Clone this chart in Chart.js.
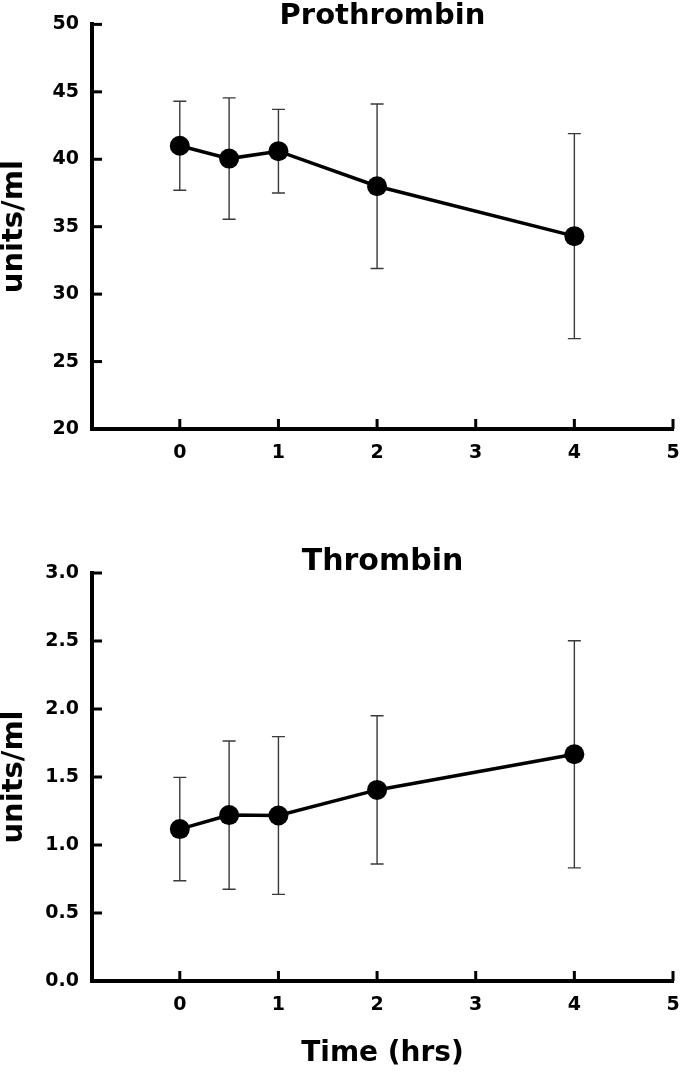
<!DOCTYPE html>
<html>
<head>
<meta charset="utf-8">
<script src="https://cdn.jsdelivr.net/npm/chart.js@4.4.1/dist/chart.umd.min.js"></script>
<style>
  html, body { margin: 0; padding: 0; background: #fff; }
  #wrap { position: relative; width: 680px; height: 1073px; overflow: hidden; }
  #c1 { position: absolute; left: 0; top: 0; }
  #c2 { position: absolute; left: 0; top: 520px; }
</style>
</head>
<body>
<div id="wrap">
  <canvas id="c1" width="680" height="470"></canvas>
  <canvas id="c2" width="680" height="553"></canvas>
</div>
<script>
// ---- Data ----
const timeHrs = [0, 0.5, 1, 2, 4];
const prothrombinMean = [41.0, 40.05, 40.6, 38.0, 34.3];
const prothrombinSD = [3.3, 4.5, 3.1, 6.1, 7.6];
const thrombinMean = [1.117, 1.22, 1.217, 1.405, 1.667];
const thrombinSD = [0.38, 0.545, 0.58, 0.545, 0.835];
const xTickValues = [0, 1, 2, 3, 4, 5];
const prothrombinYTicks = [20, 25, 30, 35, 40, 45, 50];
const thrombinYTicks = [0, 0.5, 1.0, 1.5, 2.0, 2.5, 3.0];

Chart.defaults.font.family = "'DejaVu Sans', 'Liberation Sans', sans-serif";
Chart.defaults.font.weight = 'bold';
Chart.defaults.color = '#000';

const errorBars = {
  id: 'errorBars',
  beforeDatasetsDraw(chart, args, opts) {
    const { ctx, scales: { x, y } } = chart;
    const ds = chart.data.datasets[0];
    const cap = 6.5;
    ctx.save();
    ctx.strokeStyle = '#3a3a3a';
    ctx.lineWidth = 1.4;
    ds.data.forEach((p, i) => {
      const sd = opts.sd[i];
      const px = x.getPixelForValue(p.x);
      const yt = y.getPixelForValue(p.y + sd);
      const yb = y.getPixelForValue(p.y - sd);
      ctx.beginPath();
      ctx.moveTo(px, yt); ctx.lineTo(px, yb);
      ctx.moveTo(px - cap, yt); ctx.lineTo(px + cap, yt);
      ctx.moveTo(px - cap, yb); ctx.lineTo(px + cap, yb);
      ctx.stroke();
    });
    ctx.restore();
  }
};

const innerTicks = {
  id: 'innerTicks',
  beforeDatasetsDraw(chart) {
    const { ctx, chartArea, scales: { x, y } } = chart;
    const len = 10;
    ctx.save();
    ctx.strokeStyle = '#000';
    ctx.lineWidth = 3;
    x.ticks.forEach(t => {
      const px = x.getPixelForValue(t.value);
      ctx.beginPath();
      ctx.moveTo(px, chartArea.bottom);
      ctx.lineTo(px, chartArea.bottom - len);
      ctx.stroke();
    });
    y.ticks.forEach(t => {
      const py = y.getPixelForValue(t.value);
      ctx.beginPath();
      ctx.moveTo(chartArea.left, py);
      ctx.lineTo(chartArea.left + len, py);
      ctx.stroke();
    });
    ctx.restore();
  }
};

function makeChart(canvasId, cfg) {
  return new Chart(document.getElementById(canvasId), {
    type: 'line',
    data: {
      datasets: [{
        data: timeHrs.map((t, i) => ({ x: t, y: cfg.mean[i] })),
        borderColor: '#000',
        borderWidth: 3.5,
        pointRadius: 10,
        pointBackgroundColor: '#000',
        pointBorderColor: '#000',
        pointBorderWidth: 0,
        tension: 0,
        clip: false
      }]
    },
    plugins: [errorBars, innerTicks],
    options: {
      responsive: false,
      animation: false,
      layout: { autoPadding: false, padding: { left: 0, right: 7, top: 0, bottom: 0 } },
      plugins: {
        legend: { display: false },
        tooltip: { enabled: false },
        errorBars: { sd: cfg.sd },
        title: {
          display: true,
          text: cfg.title,
          fullSize: false,
          color: '#000',
          font: { size: cfg.titleSize, weight: 'bold', lineHeight: cfg.titleLH },
          padding: cfg.titlePad
        }
      },
      scales: {
        x: {
          type: 'linear',
          min: -0.89,
          max: 5,
          grid: { display: false, drawTicks: false },
          border: { display: true, width: 4, color: '#000' },
          ticks: { font: { size: 19, weight: 'bold' }, color: '#000', padding: 13, maxRotation: 0 },
          afterBuildTicks: s => { s.ticks = xTickValues.map(v => ({ value: v })); },
          afterFit: s => { s.height = cfg.xHeight; s.paddingLeft = 0; s.paddingRight = 0; },
          title: cfg.xTitle
        },
        y: {
          type: 'linear',
          min: cfg.yTicks[0],
          max: cfg.yTicks[cfg.yTicks.length - 1],
          grid: { display: false, drawTicks: false },
          border: { display: true, width: 4, color: '#000' },
          ticks: {
            font: { size: 19, weight: 'bold' }, color: '#000', padding: 13,
            callback: v => cfg.decimals ? Number(v).toFixed(cfg.decimals) : String(v)
          },
          afterBuildTicks: s => { s.ticks = cfg.yTicks.map(v => ({ value: v })); },
          afterFit: s => { s.width = 92; },
          title: {
            display: true,
            text: 'units/ml',
            color: '#000',
            font: { size: 29, weight: 'bold', lineHeight: 1 },
            padding: 0
          }
        }
      }
    }
  });
}

makeChart('c1', {
  title: 'Prothrombin',
  titleSize: 29,
  titleLH: 16 / 29,
  titlePad: { top: 5, bottom: 0 },
  mean: prothrombinMean,
  sd: prothrombinSD,
  yTicks: prothrombinYTicks,
  decimals: 0,
  xHeight: 41,
  xTitle: { display: false }
});

makeChart('c2', {
  title: 'Thrombin',
  titleSize: 30,
  titleLH: 18 / 30,
  titlePad: { top: 33, bottom: 2 },
  mean: thrombinMean,
  sd: thrombinSD,
  yTicks: thrombinYTicks,
  decimals: 1,
  xHeight: 92,
  xTitle: {
    display: true,
    text: 'Time (hrs)',
    color: '#000',
    font: { size: 28, weight: 'bold', lineHeight: 1 },
    padding: { top: 0, bottom: 5 }
  }
});
</script>
</body>
</html>
